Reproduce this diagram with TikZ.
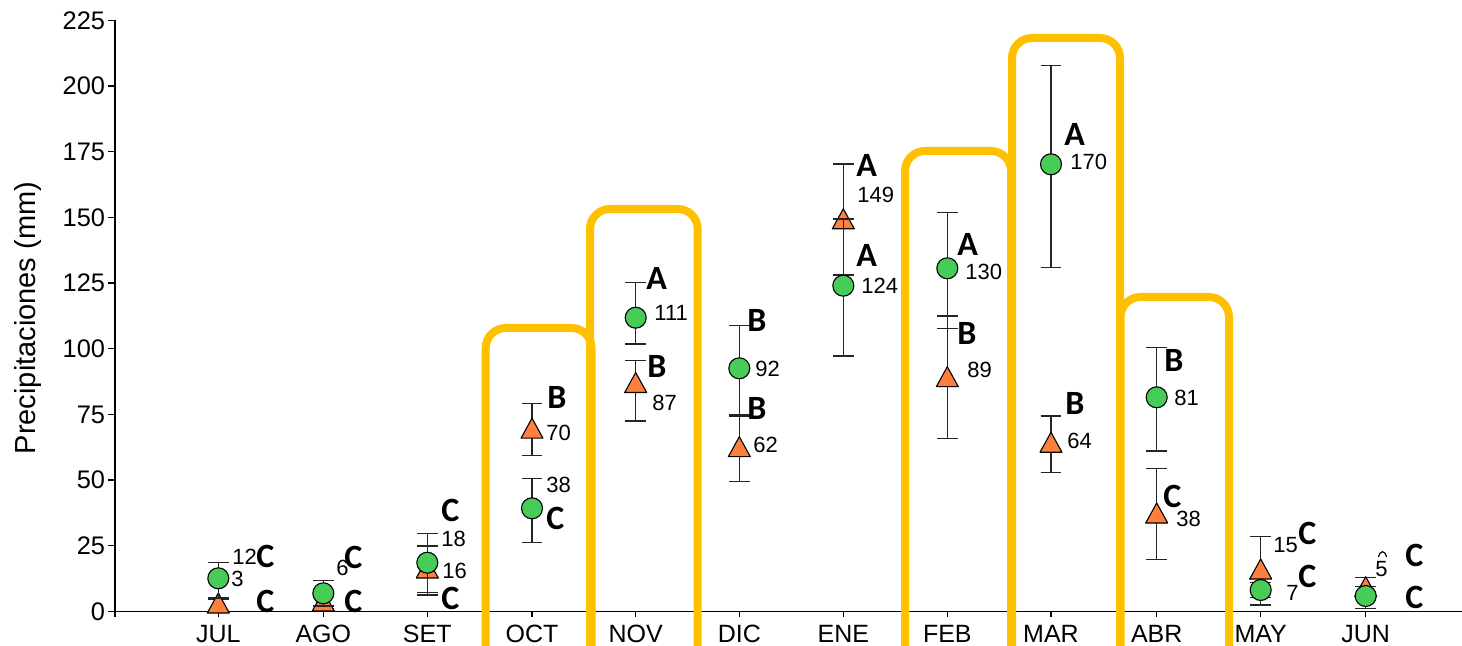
\documentclass[tikz,border=0pt]{standalone}
\usepackage{fontspec}
\setmainfont{Liberation Sans}
\newfontfamily\sigfont{Carlito}
\definecolor{triorange}{RGB}{255,127,63}
\definecolor{circgreen}{RGB}{72,204,88}
\definecolor{hlgold}{RGB}{255,192,0}
\newcommand\ebar[3]{\draw[bar] (#1,#2) -- (#1,#3); \draw[bar] (#1-10.3,#2) -- (#1+10.3,#2); \draw[bar] (#1-10.3,#3) -- (#1+10.3,#3);}
\newcommand\ebartop[3]{\draw[bar] (#1,#2) -- (#1,#3); \draw[bar] (#1-10.3,#2) -- (#1+10.3,#2);}
\newcommand\mktri[2]{\draw[tri] (#1,#2-10) -- (#1+11,#2+10) -- (#1-11,#2+10) -- cycle;}
\newcommand\mkcirc[2]{\draw[circ] (#1,#2) circle[radius=5.25pt];}
\begin{document}
\begin{tikzpicture}[x=0.5pt,y=-0.5pt,
  axisline/.style={line width=0.65pt, draw=black},
  bar/.style={line width=0.6pt, draw=black!85},
  tri/.style={fill=triorange, draw=black, line width=0.55pt, line join=round},
  circ/.style={fill=circgreen, draw=black, line width=0.55pt},
  ticklbl/.style={font=\fontsize{12.7}{13}\selectfont, anchor=east, inner sep=0pt},
  monthlbl/.style={font=\fontsize{12.5}{13}\selectfont, inner sep=0pt},
  num/.style={font=\fontsize{11}{12}\selectfont, anchor=west, inner sep=0pt},
  sig/.style={font=\sigfont\bfseries\fontsize{17}{18}\selectfont, anchor=west, inner sep=0pt},
  hlbox/.style={draw=hlgold, line width=4pt, rounded corners=10pt}]
\useasboundingbox (0,0) rectangle (1462,646);
\clip (0,0) rectangle (1462,646);
% axes
\draw[axisline] (115,20.5) -- (115,617);
\draw[axisline] (115,611.5) -- (1462,611.5);
\foreach \v in {0,25,...,225} {
  \pgfmathsetmacro\yy{611.5-2.627*\v}
  \draw[axisline] (108,\yy) -- (115,\yy);
  \node[ticklbl] (yt\v) at (105.5,\yy) {\v};
}
\node[font=\fontsize{14.5}{15}\selectfont, rotate=90, anchor=base, inner sep=0pt] (ytitle) at (35,318) {Precipitaciones (mm)};
\foreach \m/\xx [count=\i] in {JUL/218.3,AGO/323.3,SET/427.3,OCT/532,NOV/635.7,DIC/739.3,ENE/843.3,FEB/947.3,MAR/1051,ABR/1156.7,MAY/1260.7,JUN/1365.7} {
  \draw[axisline] (\xx,611.5) -- (\xx,617);
  \node[monthlbl] (m\i) at (\xx,634) {\m};
}
% triangle series: error bars
\ebartop{218.3}{599.3}{606}
\ebar{323.3}{606}{609}
\ebar{427.3}{546}{595}
\ebar{532}{403.3}{455.7}
\ebar{635.7}{360.7}{421}
\ebar{739.3}{416}{481.7}
\ebar{843.3}{164}{275}
\ebar{947.3}{316}{438.3}
\ebar{1051}{416}{472.3}
\ebar{1156.7}{468.3}{559.3}
\ebar{1260.7}{536.7}{605}
\ebar{1365.7}{577.7}{596}
% triangle markers
\mktri{218.3}{603}
\mktri{323.3}{601}
\mktri{427.3}{568}
\mktri{532}{428.2}
\mktri{635.7}{382.5}
\mktri{739.3}{446.7}
\mktri{843.3}{218.8}
\mktri{947.3}{376.7}
\mktri{1051}{442.3}
\mktri{1156.7}{513}
\mktri{1260.7}{569}
\mktri{1365.7}{586.7}
% circle series: error bars
\ebar{218.3}{562.7}{598}
\ebar{323.3}{580.7}{606}
\ebar{427.3}{533.3}{592.7}
\ebar{532}{478.3}{542.3}
\ebar{635.7}{282.7}{344}
\ebar{739.3}{325.7}{415}
\ebar{843.3}{219}{356}
\ebar{947.3}{212.7}{328.3}
\ebar{1051}{65.7}{267.3}
\ebar{1156.7}{347.3}{451}
\ebar{1260.7}{582.6}{597.3}
\ebar{1365.7}{586.7}{608.3}
% circle markers
\mkcirc{218.3}{578.3}
\mkcirc{323.3}{593.3}
\mkcirc{427.3}{562.7}
\mkcirc{532}{508.3}
\mkcirc{635.7}{317.7}
\mkcirc{739.3}{368.3}
\mkcirc{843.3}{285.7}
\mkcirc{947.3}{268.3}
\mkcirc{1051}{164.3}
\mkcirc{1156.7}{397.3}
\mkcirc{1260.7}{590}
\mkcirc{1365.7}{596}
% labels JUL
\node[num] (n1a) at (232,556.7) {12};
\node[num] (n1b) at (231,579) {3};
\node[sig] (s1a) at (256,556.7) {C};
\node[sig] (s1b) at (256,601.7) {C};
% AGO
\node[num] (n2a) at (336,568) {6};
\node[sig] (s2a) at (344,557.3) {C};
\node[sig] (s2b) at (344,601.7) {C};
% SET
\node[num] (n3a) at (441,539.3) {18};
\node[num] (n3b) at (442,570.7) {16};
\node[sig] (s3a) at (441,510) {C};
\node[sig] (s3b) at (441,598.3) {C};
% OCT
\node[sig] (s4a) at (547,397.3) {B};
\node[num] (n4a) at (546,432.7) {70};
\node[num] (n4b) at (546,485) {38};
\node[sig] (s4b) at (546,518.3) {C};
% NOV
\node[sig] (s5a) at (646,278.3) {A};
\node[num] (n5a) at (654,313.3) {111};
\node[sig] (s5b) at (647,366.7) {B};
\node[num] (n5b) at (652,403.3) {87};
% DIC
\node[sig] (s6a) at (747,320) {B};
\node[num] (n6a) at (755,369.3) {92};
\node[sig] (s6b) at (747,408.3) {B};
\node[num] (n6b) at (753,445) {62};
% ENE
\node[sig] (s7a) at (856,165) {A};
\node[num] (n7a) at (857,195) {149};
\node[sig] (s7b) at (856,255) {A};
\node[num] (n7b) at (861,285.7) {124};
% FEB
\node[sig] (s8a) at (957,244.3) {A};
\node[num] (n8a) at (965,272.3) {130};
\node[sig] (s8b) at (957,333.3) {B};
\node[num] (n8b) at (967,370) {89};
% MAR
\node[sig] (s9a) at (1064,134.3) {A};
\node[num] (n9a) at (1070,161.7) {170};
\node[sig] (s9b) at (1065,403.3) {B};
\node[num] (n9b) at (1067,440.7) {64};
% ABR
\node[sig] (s10a) at (1164,360.7) {B};
\node[num] (n10a) at (1174,398.3) {81};
\node[sig] (s10b) at (1163,496.7) {C};
\node[num] (n10b) at (1176,519.3) {38};
% MAY
\node[num] (n11a) at (1273,545) {15};
\node[sig] (s11a) at (1298,533.3) {C};
\node[num] (n11b) at (1286,593.3) {7};
\node[sig] (s11b) at (1298,576.7) {C};
% JUN
\node[num] (n12a) at (1375,569.3) {5};
\draw[line width=0.6pt] (1378.5,557) .. controls (1380,550) and (1385,550) .. (1386.5,557);
\node[sig] (s12a) at (1405,555) {C};
\node[sig] (s12b) at (1405,597.3) {C};
% highlight boxes
\draw[hlbox] (485.7,680) -- (485.7,328) -- (591.5,328) -- (591.5,680);
\draw[hlbox] (590,680) -- (590,209) -- (697.7,209) -- (697.7,680);
\draw[hlbox] (905,680) -- (905,151) -- (1011,151) -- (1011,680);
\draw[hlbox] (1012,680) -- (1012,38) -- (1120,38) -- (1120,680);
\draw[hlbox] (1120.5,680) -- (1120.5,297) -- (1229,297) -- (1229,680);
\end{tikzpicture}
\end{document}
